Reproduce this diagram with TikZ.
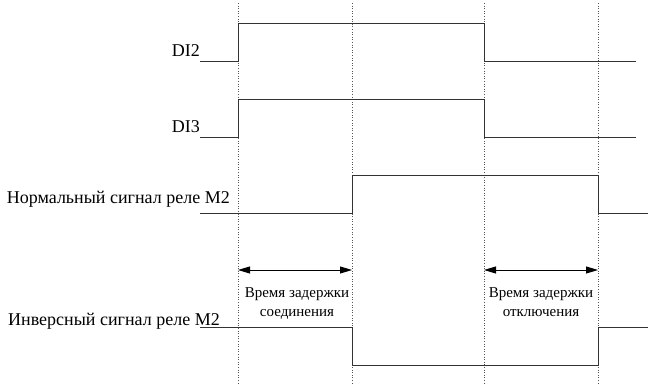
\documentclass[tikz,border=0pt]{standalone}
\usepackage{fontspec}
\setmainfont{Liberation Serif}
\usetikzlibrary{arrows.meta}
\definecolor{sigline}{HTML}{333333}
\definecolor{gridline}{HTML}{555555}
\tikzset{
  signal/.style={draw=sigline, line width=0.9pt},
  marker/.style={draw=gridline, line width=0.6pt, dotted},
  siglabel/.style={anchor=base east, inner sep=0pt, font=\fontsize{18}{21}\selectfont},
  delay/.style={{Triangle[length=12pt,width=7pt]}-{Triangle[length=12pt,width=7pt]}, line width=0.9pt, draw=black},
  delaylabel/.style={align=center, inner sep=0pt, font=\fontsize{15}{19}\selectfont}
}
\begin{document}
\begin{tikzpicture}[x=1pt, y=-1pt]
\useasboundingbox (0,0) rectangle (648,387);

% time markers
\foreach \name/\xpos in {ta/238, tb/352, tc/484, td/598} {
  \coordinate (\name top) at (\xpos,3);
  \coordinate (\name bot) at (\xpos,384);
  \draw[marker] (\name top) -- (\name bot);
}

% signals
\node[siglabel] (di2) at (200,57) {DI2};
\draw[signal] (200,61) -- (238,61) -- (238,23) -- (484,23) -- (484,61) -- (636,61);

\node[siglabel] (di3) at (200,133) {DI3};
\draw[signal] (200,137) -- (238,137) -- (238,99) -- (484,99) -- (484,137) -- (636,137);

\node[siglabel] (normal) at (230,204) {Нормальный сигнал реле M2};
\draw[signal] (200,213) -- (352,213) -- (352,175) -- (598,175) -- (598,213) -- (648,213);

\node[siglabel] (inverse) at (220,326) {Инверсный сигнал реле M2};
\draw[signal] (200,327) -- (352,327) -- (352,365) -- (598,365) -- (598,327) -- (648,327);

% delays
\coordinate (onstart) at (238,270);
\coordinate (onend) at (352,270);
\coordinate (offstart) at (484,270);
\coordinate (offend) at (598,270);
\draw[delay] (onstart) -- (onend);
\draw[delay] (offstart) -- (offend);

\node[delaylabel, anchor=base] (ondelay) at (297,317) {Время задержки\\соединения};
\node[delaylabel, anchor=base] (offdelay) at (541,317) {Время задержки\\отключения};

\end{tikzpicture}
\end{document}
